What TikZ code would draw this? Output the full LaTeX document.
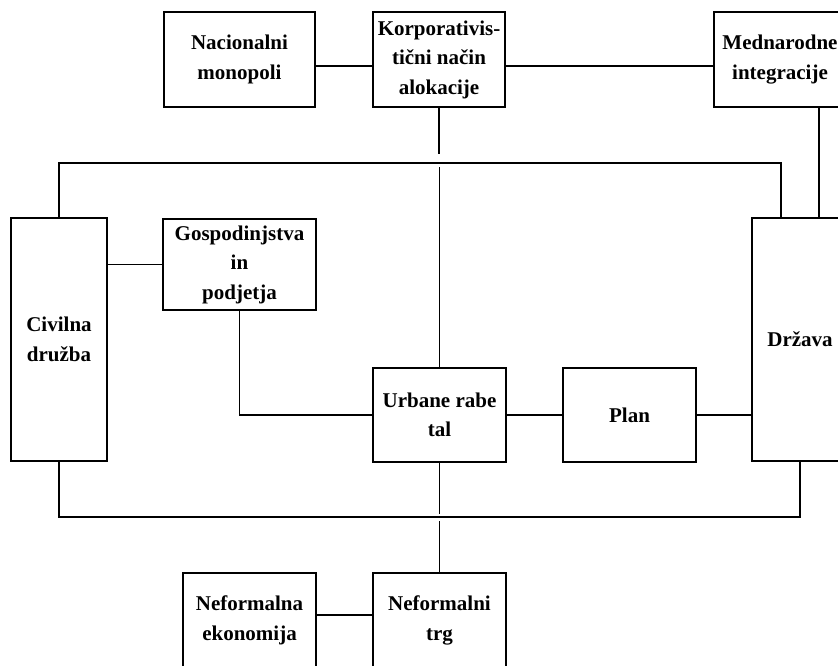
\documentclass[tikz,border=0pt]{standalone}
\usepackage{fontspec}
\setmainfont{Liberation Serif}
\begin{document}
\begin{tikzpicture}[x=1pt,y=-1pt,
  box/.style={draw, line width=1.3pt, inner sep=0pt, align=center,
    font=\bfseries\fontsize{21}{29.5}\selectfont},
  conn/.style={line width=1.3pt}]
\useasboundingbox (0,0) rectangle (838,665);
\clip (0,0) rectangle (838,665);
% top row
\node[box, minimum width=151pt, minimum height=95pt] (nm) at (239.5,59.5) {Nacionalni\\monopoli};
\node[box, minimum width=132pt, minimum height=95pt] (korp) at (439,59.5) {Korporativis-\\tični način\\alokacije};
\node[box, minimum width=132pt, minimum height=95pt] (med) at (780,59.5) {Mednarodne\\integracije};
% middle
\node[box, minimum width=96pt, minimum height=243pt] (civ) at (59,339.5) {Civilna\\družba};
\node[box, minimum width=153pt, minimum height=91pt] (gosp) at (239.5,264.5) {Gospodinjstva\\in\\podjetja};
\node[box, minimum width=133pt, minimum height=94pt] (urb) at (439.5,415) {Urbane rabe\\tal};
\node[box, minimum width=133pt, minimum height=94pt] (plan) at (629.5,415) {Plan};
\node[box, minimum width=96pt, minimum height=243pt] (drz) at (800,339.5) {Država};
% bottom
\node[box, minimum width=133pt, minimum height=95pt] (nefe) at (249.5,620.5) {Neformalna\\ekonomija};
\node[box, minimum width=133pt, minimum height=95pt] (nefm) at (439.5,620.5) {Neformalni\\trg};
% loop corners
\coordinate (tl) at (59,163);
\coordinate (tr) at (781,163);
\coordinate (bl) at (59,517);
\coordinate (br) at (800,517);
% connectors
\draw[conn] ([yshift=-6.5pt]nm.east) -- ([yshift=-6.5pt]korp.west);
\draw[conn] ([yshift=-6.5pt]korp.east) -- ([yshift=-6.5pt]med.west);
\draw[conn] ([xshift=39pt]med.south) -- ([xshift=39pt]med.south |- drz.north);
\draw[conn] (civ.north) -- (tl) -- (tr) -- (tr |- drz.north);
\draw[conn] (civ.south) -- (bl) -- (br) -- (drz.south);
\draw[conn] (korp.south) -- ++(0,46);
\draw[conn] (urb.north) -- ++(0,-200);
\draw[conn] (urb.south) -- ++(0,51);
\draw[conn] (nefm.north) -- ++(0,-51);
\draw[conn] (gosp.west -| civ.east) -- (gosp.west);
\draw[conn] (gosp.south) |- (urb.west);
\draw[conn] (urb.east) -- (plan.west);
\draw[conn] (plan.east) -- (plan.east -| drz.west);
\draw[conn] ([yshift=5.5pt]nefe.east) -- ([yshift=5.5pt]nefm.west);
\end{tikzpicture}
\end{document}
